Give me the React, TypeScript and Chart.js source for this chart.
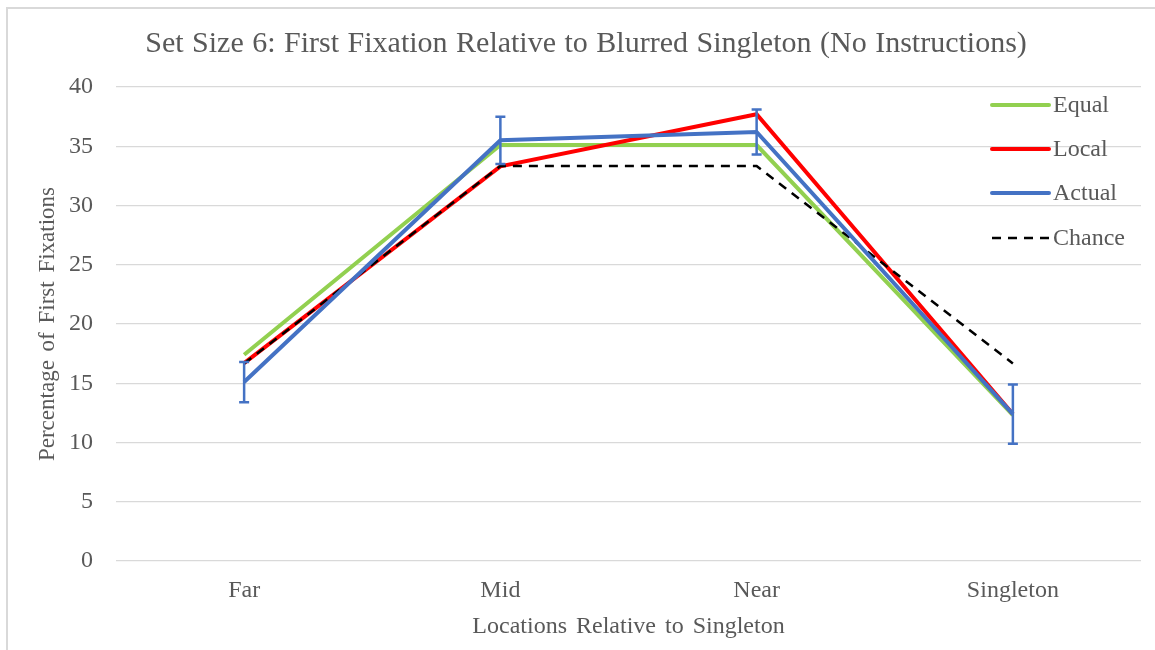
import React, { useEffect, useRef } from "react";
import { Chart, registerables } from "chart.js";

Chart.register(...registerables);

// Categories and series (percent of first fixations)
const categories = ["Far", "Mid", "Near", "Singleton"];
const equalValues = [17.4, 35.1, 35.1, 12.3];
const localValues = [16.7, 33.3, 37.7, 12.4];
const actualValues = [15.1, 35.5, 36.2, 12.4];
const actualErrors = [1.7, 2.0, 1.9, 2.5];
const chanceValues = [16.67, 33.33, 33.33, 16.67];
const yTicks = [0, 5, 10, 15, 20, 25, 30, 35, 40];

const chartTitle = "Set Size 6: First Fixation Relative to Blurred Singleton (No Instructions)";

const FONT = "'Liberation Serif', 'Times New Roman', serif";
const TEXT = "#595959";
const GRID = "#d9d9d9";

// Wider word gaps for all text on the canvas
const wordSpacingPlugin = {
  id: "wordSpacing",
  beforeDraw(chart: any) {
    (chart.ctx as any).wordSpacing = "3px";
  },
};

// Title, centred a little right of the canvas centre
const titlePlugin = {
  id: "chartTitleText",
  afterDraw(chart: any) {
    const { ctx } = chart;
    ctx.save();
    (ctx as any).wordSpacing = "1px";
    ctx.fillStyle = TEXT;
    ctx.font = `30px ${FONT}`;
    ctx.textAlign = "center";
    ctx.textBaseline = "middle";
    ctx.fillText(chartTitle, 586, 44);
    ctx.restore();
  },
};

// Vertical error bars on the "Actual" series
const errorBarPlugin = {
  id: "errorBars",
  afterDatasetsDraw(chart: any) {
    const ds = chart.data.datasets.findIndex((d: any) => d.label === "Actual");
    if (ds < 0) return;
    const { ctx, scales } = chart;
    const x = scales.x;
    const y = scales.y;
    ctx.save();
    ctx.strokeStyle = "#4472c4";
    ctx.lineWidth = 2.5;
    ctx.lineCap = "butt";
    actualValues.forEach((v, i) => {
      const px = x.getPixelForValue(i);
      const top = y.getPixelForValue(v + actualErrors[i]);
      const bot = y.getPixelForValue(v - actualErrors[i]);
      ctx.beginPath();
      ctx.moveTo(px, top);
      ctx.lineTo(px, bot);
      ctx.moveTo(px - 5, top);
      ctx.lineTo(px + 5, top);
      ctx.moveTo(px - 5, bot);
      ctx.lineTo(px + 5, bot);
      ctx.stroke();
    });
    ctx.restore();
  },
};

// Legend drawn inside the plot, at its right edge
const insideLegendPlugin = {
  id: "insideLegend",
  afterDraw(chart: any) {
    const { ctx, chartArea } = chart;
    const lineStart = chartArea.right - 149;
    const lineEnd = chartArea.right - 92;
    const textX = chartArea.right - 88;
    const rows = [105, 149, 193, 238];
    ctx.save();
    chart.data.datasets.forEach((d: any, i: number) => {
      const yy = rows[i];
      ctx.beginPath();
      ctx.strokeStyle = d.borderColor;
      ctx.lineWidth = d.borderWidth;
      ctx.setLineDash(d.borderDash || []);
      ctx.lineCap = d.borderDash ? "butt" : "round";
      ctx.moveTo(lineStart, yy);
      ctx.lineTo(lineEnd, yy);
      ctx.stroke();
      ctx.setLineDash([]);
      ctx.fillStyle = TEXT;
      ctx.font = `24px ${FONT}`;
      ctx.textAlign = "left";
      ctx.textBaseline = "middle";
      ctx.fillText(d.label, textX, yy + 1);
    });
    ctx.restore();
  },
};

export default function App() {
  const canvasRef = useRef<HTMLCanvasElement | null>(null);

  useEffect(() => {
    if (!canvasRef.current) return;
    const chart = new Chart(canvasRef.current, {
      type: "line",
      data: {
        labels: categories,
        datasets: [
          {
            label: "Equal",
            data: equalValues,
            borderColor: "#92d050",
            backgroundColor: "#92d050",
            borderWidth: 4,
            pointRadius: 0,
            tension: 0,
            order: 3,
          },
          {
            label: "Local",
            data: localValues,
            borderColor: "#ff0000",
            backgroundColor: "#ff0000",
            borderWidth: 4,
            pointRadius: 0,
            tension: 0,
            order: 2,
          },
          {
            label: "Actual",
            data: actualValues,
            borderColor: "#4472c4",
            backgroundColor: "#4472c4",
            borderWidth: 4,
            pointRadius: 0,
            tension: 0,
            order: 0,
          },
          {
            label: "Chance",
            data: chanceValues,
            borderColor: "#000000",
            backgroundColor: "#000000",
            borderWidth: 2.5,
            borderDash: [9, 7],
            pointRadius: 0,
            tension: 0,
            order: 1,
          },
        ],
      },
      options: {
        animation: false,
        responsive: false,
        maintainAspectRatio: false,
        layout: { padding: { left: 0, right: 14, top: 87, bottom: 0 } },
        plugins: {
          legend: { display: false },
          tooltip: { enabled: false },
          title: { display: false },
        },
        scales: {
          x: {
            offset: true,
            grid: { display: false, drawTicks: false },
            border: { display: false },
            ticks: {
              color: TEXT,
              font: { family: FONT, size: 24 },
              padding: 15,
            },
            title: {
              display: true,
              text: "Locations Relative to Singleton",
              color: TEXT,
              font: { family: FONT, size: 24 },
              padding: { top: 0, bottom: 8.6 },
            },
            afterFit: (s: any) => {
              s.height = 89;
            },
          },
          y: {
            min: 0,
            max: 40,
            afterBuildTicks: (s: any) => {
              s.ticks = yTicks.map((v) => ({ value: v }));
            },
            grid: { color: GRID, lineWidth: 1.3, drawTicks: false },
            border: { display: false },
            ticks: {
              color: TEXT,
              font: { family: FONT, size: 24 },
              padding: 23,
            },
            title: {
              display: true,
              text: "Percentage of First Fixations",
              color: TEXT,
              font: { family: FONT, size: 23 },
              padding: { top: 34, bottom: 0 },
            },
            afterFit: (s: any) => {
              s.width = 116;
            },
          },
        },
      },
      plugins: [wordSpacingPlugin, errorBarPlugin, insideLegendPlugin, titlePlugin],
    });
    return () => chart.destroy();
  }, []);

  return (
    <div
      style={{
        position: "fixed",
        left: 0,
        top: 0,
        width: 1155,
        height: 650,
        background: "#ffffff",
        overflow: "hidden",
      }}
    >
      <canvas ref={canvasRef} width={1155} height={650} style={{ width: 1155, height: 650, display: "block" }} />
      <div
        style={{
          position: "absolute",
          left: 6,
          top: 7,
          width: 1200,
          height: 700,
          borderLeft: `2px solid ${GRID}`,
          borderTop: `2px solid ${GRID}`,
          pointerEvents: "none",
        }}
      />
    </div>
  );
}
